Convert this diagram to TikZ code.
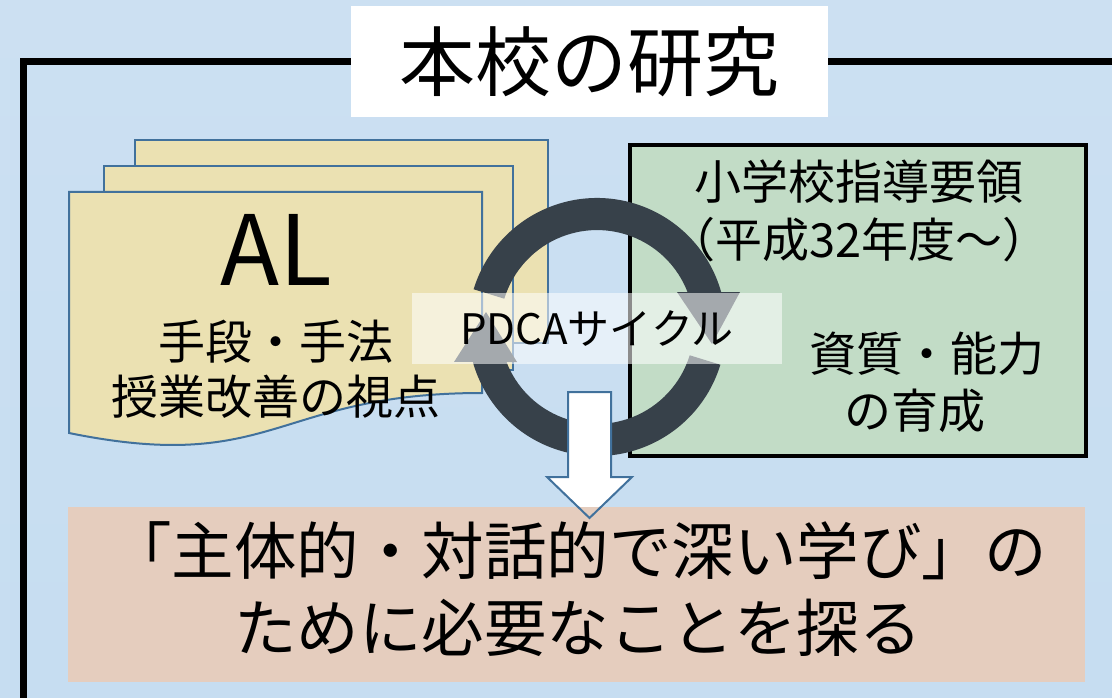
\documentclass[tikz,border=0pt]{standalone}
\usepackage{fontspec}
\setmainfont{Noto Sans CJK JP}
\definecolor{bgtop}{RGB}{204,224,242}
\definecolor{bgmid}{RGB}{180,210,236}
\definecolor{bgbot}{RGB}{198,221,241}
\definecolor{docfill}{RGB}{235,225,178}
\definecolor{docline}{RGB}{65,113,156}
\definecolor{greenfill}{RGB}{194,220,198}
\definecolor{pinkfill}{RGB}{229,205,190}
\definecolor{ringcol}{RGB}{55,65,74}
\begin{document}
\begin{tikzpicture}[x=1pt,y=-1pt,
  frameline/.style={line width=7pt,black},
  titlebox/.style={fill=white,minimum width=477pt,minimum height=111pt,inner sep=0pt,font=\fontsize{76}{80}\selectfont},
  docback/.style={fill=docfill,draw=docline,line width=2pt,inner sep=0pt},
  doctext/.style={align=center,inner sep=0pt},
  greenbox/.style={fill=greenfill,draw=black,line width=3.5pt,inner sep=0pt},
  greentext/.style={align=center,inner sep=0pt,font=\fontsize{47}{58}\selectfont},
  ringarrow/.style={fill=ringcol},
  cyclelabel/.style={fill=white,fill opacity=0.55,text opacity=1,minimum width=370pt,minimum height=71pt,inner sep=0pt,font=\fontsize{42}{46}\selectfont},
  blockarrow/.style={draw=docline,line width=2pt,line join=miter},
  resultbox/.style={fill=pinkfill,minimum width=1017pt,minimum height=175pt,inner sep=0pt},
  resulttext/.style={align=center,inner sep=0pt,font=\fontsize{62.5}{77}\selectfont}]
\useasboundingbox (0,0) rectangle (1112,698);
\clip (0,0) rectangle (1112,698);
% background
\shade[top color=bgtop,middle color=bgmid,bottom color=bgbot] (0,0) rectangle (1112,698);
% frame
\coordinate (fTR) at (1130,62);
\coordinate (fTL) at (23,62);
\coordinate (fBL) at (23,720);
\draw[frameline] (fTR) -- (fTL) -- (fBL);
% title
\node[titlebox] (title) at (589.5,61.5) {本校の研究};
% stacked documents
\node[docback,minimum width=413pt,minimum height=203pt] (doc3) at (341.5,241.5) {};
\node[docback,minimum width=409pt,minimum height=204pt] (doc2) at (308.5,268) {};
\coordinate (d1a) at (69,192);
\coordinate (d1b) at (482,192);
\coordinate (d1c) at (482,393);
\coordinate (d1d) at (69,433);
\filldraw[fill=docfill,draw=docline,line width=2pt,line join=miter]
  (d1a) -- (d1b) -- (d1c) .. controls (275,393) and (275,475) .. (d1d) -- cycle;
\node[doctext,font=\fontsize{97}{100}\selectfont] (al) at (276,250) {AL};
\node[doctext,font=\fontsize{47}{55}\selectfont] (means) at (276,369) {手段・手法\\授業改善の視点};
% green box
\node[greenbox,minimum width=456pt,minimum height=311pt] (guide) at (858,300.5) {};
\node[greentext] (guide1) at (859,211) {小学校指導要領\\（平成32年度～）};
\node[greentext] (guide2a) at (927,354) {資質・能力};
\node[greentext] (guide2b) at (915,411) {の育成};
% cycle ring
\begin{scope}[shift={(597,327)},x=1pt,y=1pt]
\fill[ringarrow] (163:129) arc[start angle=163,end angle=15.7,radius=129]
  -- (143,35) -- (115,-17) -- (80,35) -- (90.5,35)
  arc[start angle=21.2,end angle=163,radius=97] -- cycle;
\fill[ringarrow] (-17:129) arc[start angle=-17,end angle=-164.3,radius=129]
  -- (-143,-35) -- (-111,15) -- (-80,-35) -- (-90.5,-35)
  arc[start angle=-158.8,end angle=-17,radius=97] -- cycle;
\end{scope}
\node[cyclelabel] (pdca) at (597,328.5) {PDCAサイクル};
% down arrow
\coordinate (a1) at (568,392);
\coordinate (a2) at (611,392);
\coordinate (a3) at (611,477);
\coordinate (a4) at (632,477);
\coordinate (a5) at (589.5,518);
\coordinate (a6) at (547,477);
\coordinate (a7) at (568,477);
\fill[white] (a1) -- (a2) -- (a3) -- (a4) -- (a5) -- (a6) -- (a7) -- cycle;
% result box
\node[resultbox] (result) at (576.5,594.5) {};
\node[resulttext] (resulttxt) at (578,589) {「主体的・対話的で深い学び」の\\ために必要なことを探る};
\draw[blockarrow] (a1) -- (a2) -- (a3) -- (a4) -- (a5) -- (a6) -- (a7) -- cycle;
\end{tikzpicture}
\end{document}
